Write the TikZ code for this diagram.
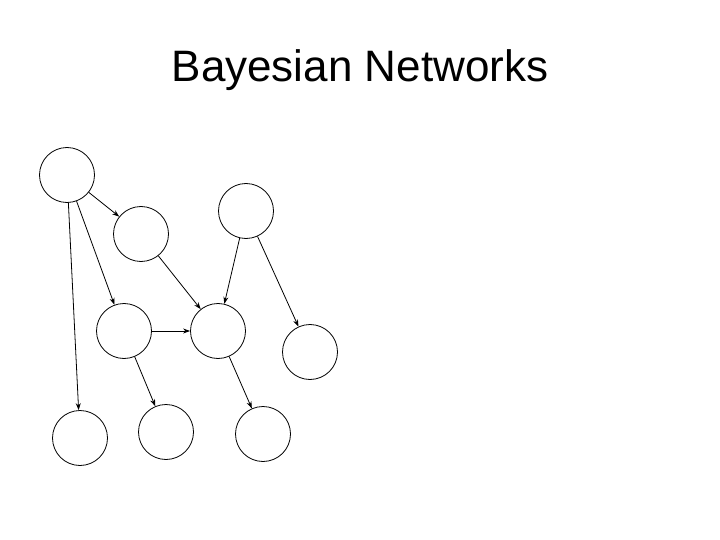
\documentclass[tikz,border=0pt]{standalone}
\usepackage{fontspec}
\setmainfont{Liberation Sans}
\usetikzlibrary{arrows.meta}
\tikzset{bn/.style={circle,draw,line width=0.8pt,minimum size=55pt,inner sep=0pt},
 edge/.style={-{Stealth[length=7pt,width=5pt]},line width=0.8pt}}
\begin{document}
\begin{tikzpicture}[x=1pt,y=-1pt]
\useasboundingbox (0,0) rectangle (720,540);
\node (title) at (360,70) {\fontsize{44}{50}\selectfont Bayesian Networks};
\node[bn] (a) at (67,175) {};
\node[bn] (b) at (141,234) {};
\node[bn] (c) at (246,211) {};
\node[bn] (d) at (124,331) {};
\node[bn] (e) at (218,331) {};
\node[bn] (f) at (310,352) {};
\node[bn] (g) at (80,438) {};
\node[bn] (h) at (166,432) {};
\node[bn] (i) at (263,434) {};
\draw[edge] (a) -- (b);
\draw[edge] (a) -- (d);
\draw[edge] (a) -- (g);
\draw[edge] (b) -- (e);
\draw[edge] (c) -- (e);
\draw[edge] (c) -- (f);
\draw[edge] (d) -- (e);
\draw[edge] (d) -- (h);
\draw[edge] (e) -- (i);
\end{tikzpicture}
\end{document}
